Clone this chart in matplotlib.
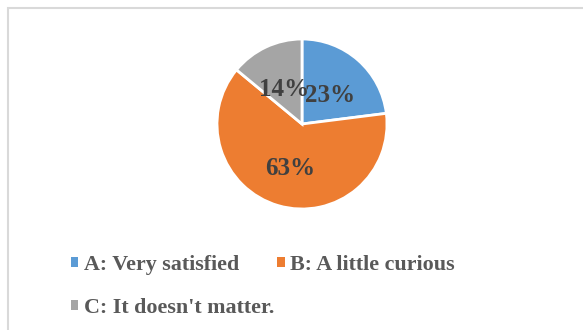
import matplotlib.pyplot as plt
from matplotlib.patches import Patch, Rectangle

# Data
labels = ["A: Very satisfied", "B: A little curious", "C: It doesn't matter."]
shares = [23, 63, 14]
colors = ["#5B9BD5", "#ED7D31", "#A5A5A5"]

W, H = 583, 330
fig = plt.figure(figsize=(W / 100, H / 100), dpi=100)
fig.patch.set_facecolor("white")

# chart frame (cut off at right / bottom like the source)
fig.patches.append(Rectangle((8 / W, -0.05), 1.1, 1 - 7.5 / H + 0.05,
                             transform=fig.transFigure, fill=False,
                             edgecolor="#D9D9D9", linewidth=1.5))

# pie axes: center (302, 124), radius 85 px
cx, cy, r = 302, 124, 85
ax = fig.add_axes([(cx - r) / W, (H - cy - r) / H, 2 * r / W, 2 * r / H])
wedges, texts, autotexts = ax.pie(
    shares, colors=colors, startangle=90, counterclock=False,
    autopct="%d%%", pctdistance=0.5, radius=1,
    wedgeprops=dict(edgecolor="white", linewidth=2),
    textprops=dict(family="Liberation Serif", fontweight="bold",
                   fontsize=18, color="#404040"))
# nudge the labels down a little (Excel places them lower)
for t in autotexts:
    x, y = t.get_position()
    t.set_position((x, y - 3.5 / r))
ax.set_xlim(-1, 1)
ax.set_ylim(-1, 1)
ax.set_aspect("equal")
ax.axis("off")

# legend, row-major order: A, B on first row, C on second
handles = [Patch(facecolor=c, edgecolor="none") for c in colors]
order = [0, 2, 1]
leg = fig.legend([handles[i] for i in order], [labels[i] for i in order],
                 ncol=2, loc="upper left", bbox_to_anchor=(71 / W, 1 - 255 / H),
                 bbox_transform=fig.transFigure, frameon=False,
                 borderpad=0, borderaxespad=0,
                 handlelength=0.33, handleheight=0.33, handletextpad=0.25,
                 columnspacing=0.15, labelspacing=1.05,
                 prop=dict(family="Liberation Serif", weight="bold", size=15.8))
for t in leg.get_texts():
    t.set_color("#595959")

fig.savefig("out.png", dpi=100)
